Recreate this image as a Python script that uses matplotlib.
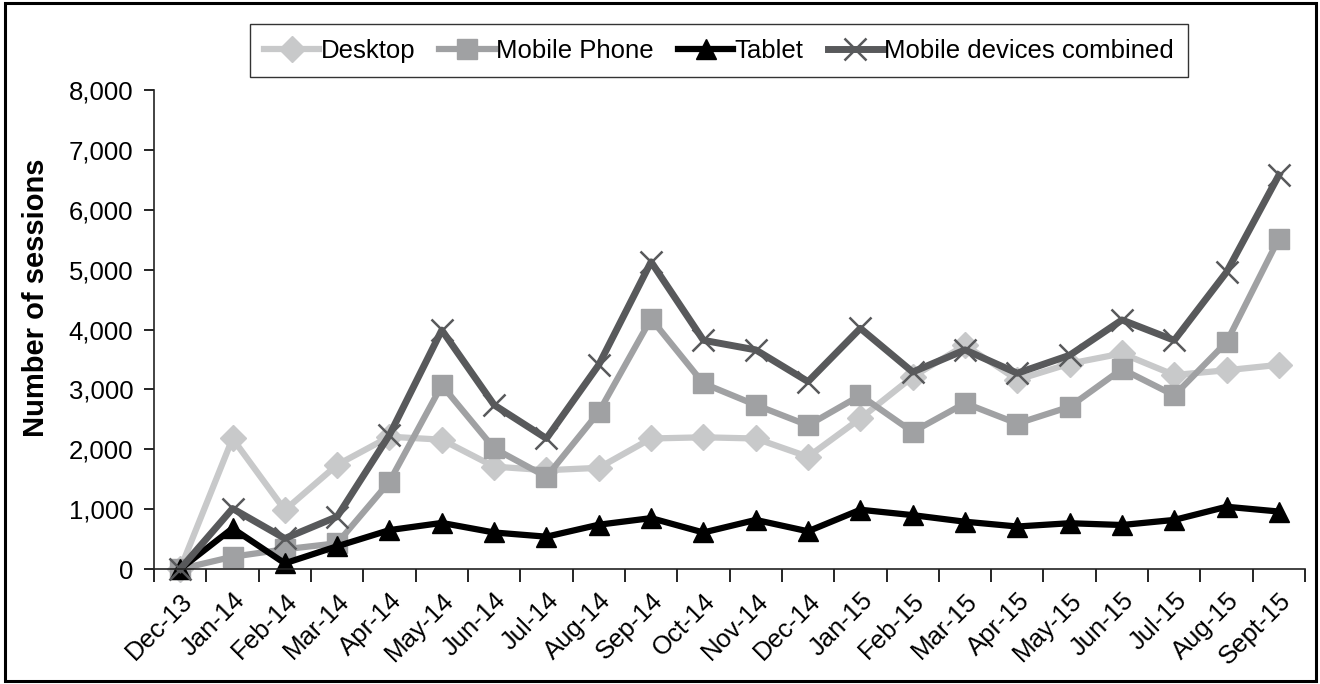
import numpy as np
import matplotlib
matplotlib.use("Agg")
import matplotlib.pyplot as plt
from matplotlib.patches import Rectangle
from matplotlib.ticker import FuncFormatter, FixedLocator
from matplotlib.transforms import ScaledTranslation

plt.rcParams["font.family"] = ["Liberation Sans", "DejaVu Sans"]

# ── Data ──────────────────────────────────────────────────────────────
months = ["Dec-13", "Jan-14", "Feb-14", "Mar-14", "Apr-14", "May-14", "Jun-14",
          "Jul-14", "Aug-14", "Sep-14", "Oct-14", "Nov-14", "Dec-14", "Jan-15",
          "Feb-15", "Mar-15", "Apr-15", "May-15", "Jun-15", "Jul-15", "Aug-15",
          "Sept-15"]
desktop = [0, 2180, 985, 1740, 2210, 2160, 1710, 1650, 1690, 2180, 2200, 2180,
           1875, 2515, 3210, 3740, 3160, 3430, 3600, 3240, 3320, 3410]
mobile = [0, 205, 330, 430, 1460, 3070, 2015, 1540, 2620, 4180, 3100, 2740,
          2400, 2900, 2290, 2770, 2430, 2710, 3340, 2900, 3790, 5520]
tablet = [0, 680, 95, 380, 650, 770, 610, 540, 740, 850, 610, 820,
          630, 990, 900, 790, 710, 765, 735, 820, 1040, 960]
combined = [0, 1010, 510, 875, 2240, 3990, 2740, 2180, 3410, 5130, 3820, 3660,
            3130, 4020, 3290, 3660, 3270, 3570, 4160, 3820, 4960, 6580]

x = np.arange(len(months))
FS = 18.5

fig = plt.figure(figsize=(13.2, 6.84), dpi=100)
ax = fig.add_axes([0.1167, 0.1681, 0.872, 0.7003])

ax.plot(x, desktop, color="#c8c9ca", lw=4.5, marker="D", ms=13, label="Desktop",
        clip_on=False)
ax.plot(x, mobile, color="#a0a1a3", lw=4.5, marker="s", ms=14, label="Mobile Phone",
        clip_on=False)
ax.plot(x, tablet, color="#000000", lw=4.5, marker="^", ms=15, label="Tablet",
        clip_on=False)
ax.plot(x, combined, color="#58595b", lw=5, marker="x", ms=16, mew=1.8,
        label="Mobile devices combined", clip_on=False)

ax.set_xlim(-0.5, len(months) - 0.5)
ax.set_ylim(0, 8000)
ax.set_yticks(np.arange(0, 8001, 1000))
ax.yaxis.set_major_formatter(FuncFormatter(lambda v, p: f"{int(v):,}"))

ax.set_xticks(x)
ax.set_xticklabels(months, rotation=45, ha="right", rotation_mode="anchor")
shift = ScaledTranslation(0.10, 0, fig.dpi_scale_trans)
for lbl in ax.get_xticklabels():
    lbl.set_transform(lbl.get_transform() + shift)
ax.xaxis.set_minor_locator(FixedLocator(np.arange(-0.5, len(months), 1.0)))
ax.tick_params(axis="x", which="major", length=0, pad=14, labelsize=FS)
ax.tick_params(axis="x", which="minor", length=9, width=1.2, direction="out")
ax.tick_params(axis="y", length=7, width=1.2, direction="out", labelsize=FS, pad=8)

for s in ["top", "right"]:
    ax.spines[s].set_visible(False)
for s in ["left", "bottom"]:
    ax.spines[s].set_linewidth(1.2)
    ax.spines[s].set_color("#222222")

ax.set_ylabel("Number of sessions", fontsize=21, fontweight="bold")
ax.yaxis.set_label_coords(-0.0904, 0.566)

leg = fig.legend(loc="center", bbox_to_anchor=(0.5447, 0.926), ncol=4,
                 fontsize=FS, frameon=True, fancybox=False, handlelength=2.15,
                 handletextpad=0.05, columnspacing=0.95, borderpad=0.55,
                 borderaxespad=0)
leg.get_frame().set_edgecolor("black")
leg.get_frame().set_linewidth(1.0)

fig.patches.append(Rectangle((0.0035, 0.005), 0.9935, 0.99, transform=fig.transFigure,
                             fill=False, edgecolor="black", lw=2.2))

fig.savefig("out.png", dpi=100)
